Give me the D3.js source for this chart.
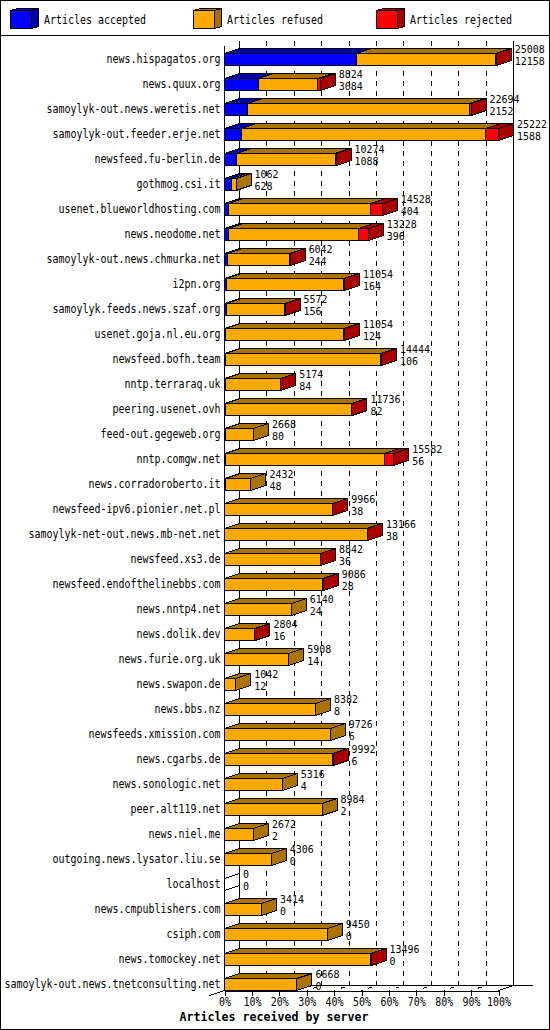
<!DOCTYPE html>
<html>
<head>
<meta charset="utf-8">
<script src="https://cdn.jsdelivr.net/npm/d3@7"></script>
<style>
  html, body { margin: 0; padding: 0; background: #fff; }
  svg { display: block; }
  text { font-family: "DejaVu Sans Mono", monospace; font-size: 11.5px; fill: #000; }
  .value { font-size: 10.3px; }
  .title { font-size: 12.5px; font-weight: bold; }
</style>
</head>
<body>
<svg id="chart" width="550" height="1030"></svg>
<script>
const servers = ["news.hispagatos.org", "news.quux.org", "samoylyk-out.news.weretis.net", "samoylyk-out.feeder.erje.net",
  "newsfeed.fu-berlin.de", "gothmog.csi.it", "usenet.blueworldhosting.com", "news.neodome.net",
  "samoylyk-out.news.chmurka.net", "i2pn.org", "samoylyk.feeds.news.szaf.org", "usenet.goja.nl.eu.org",
  "newsfeed.bofh.team", "nntp.terraraq.uk", "peering.usenet.ovh", "feed-out.gegeweb.org",
  "nntp.comgw.net", "news.corradoroberto.it", "newsfeed-ipv6.pionier.net.pl", "samoylyk-net-out.news.mb-net.net",
  "newsfeed.xs3.de", "newsfeed.endofthelinebbs.com", "news.nntp4.net", "news.dolik.dev",
  "news.furie.org.uk", "news.swapon.de", "news.bbs.nz", "newsfeeds.xmission.com",
  "news.cgarbs.de", "news.sonologic.net", "peer.alt119.net", "news.niel.me",
  "outgoing.news.lysator.liu.se", "localhost", "news.cmpublishers.com", "csiph.com",
  "news.tomockey.net", "samoylyk-out.news.tnetconsulting.net"];
// first number printed next to each bar
const received = [25008, 8824, 22694, 25222, 10274, 1062, 14528, 13228, 6042, 11054, 5572, 11054, 14444, 5174, 11736, 2668,
  15582, 2432, 9966, 13166, 8842, 9086, 6140, 2804, 5908, 1042, 8382, 9726, 9992, 5316, 8984, 2672, 4306, 0, 3414, 9450, 13496, 6668];
// second number printed next to each bar
const accepted = [12158, 3084, 2152, 1588, 1088, 628, 404, 396, 244, 164, 156, 124, 106, 84, 82, 80,
  56, 48, 38, 38, 36, 28, 24, 16, 14, 12, 8, 6, 6, 4, 2, 2, 0, 0, 0, 0, 0, 0];
// not printed, estimated from the width of the red part
const rejected = [60, 270, 100, 1200, 100, 0, 1100, 900, 50, 60, 30, 60, 60, 30, 50, 0,
  850, 0, 40, 40, 30, 30, 0, 20, 0, 0, 0, 0, 30, 0, 0, 0, 0, 0, 0, 0, 40, 0];
const percentTicks = [0, 10, 20, 30, 40, 50, 60, 70, 80, 90, 100];
const legendLabels = ["Articles accepted", "Articles refused", "Articles rejected"];

const colors = ["#0000ff", "#ffaa00", "#ff0000"];
const darkColors = ["#0000aa", "#ab7400", "#aa0000"];

// depth of the 3d effect
const depthX = 15, depthY = 5;
const barHalf = 6;
const floorY = 990.5;
const wallTop = 40.5;

const svg = d3.select("#chart");

let xPct = d3.scaleLinear().domain([0, 100]).range([224.5, 498.5]);
let xVal = d3.scaleLinear().domain([0, d3.max(received)]).range([224.5, 498.5]);
let yRow = d3.scalePoint().domain(servers).range([59, 984]);

function poly(parent, pts, fill) {
  return parent.append("polygon")
    .attr("points", pts.map(p => p.join(",")).join(" "))
    .attr("fill", fill)
    .attr("stroke", "#000")
    .attr("stroke-width", 1)
    .attr("shape-rendering", "crispEdges");
}

function seg(parent, x1, y1, x2, y2, dash) {
  return parent.append("line")
    .attr("x1", x1).attr("y1", y1).attr("x2", x2).attr("y2", y2)
    .attr("stroke", "#000")
    .attr("stroke-dasharray", dash || null)
    .attr("shape-rendering", "crispEdges");
}

// the original uses a narrow bitmap font, so squeeze the glyphs to its cell width
function fitText(sel, cell) {
  sel.attr("textLength", function() { return this.textContent.length * cell; })
     .attr("lengthAdjust", "spacingAndGlyphs");
}

// frame + header line
svg.append("rect").attr("x", 0.5).attr("y", 0.5).attr("width", 549).attr("height", 1029)
  .attr("fill", "#fff").attr("stroke", "#000").attr("shape-rendering", "crispEdges");
seg(svg, 0, 35.5, 550, 35.5);

// legend
const legendX = [10.5, 193.5, 376.5];
legendLabels.forEach((label, i) => {
  let g = svg.append("g");
  let x = legendX[i];
  poly(g, [[x, 10.5], [x + 7, 8.5], [x + 28, 8.5], [x + 21, 10.5]], darkColors[i]);
  poly(g, [[x + 21, 10.5], [x + 28, 8.5], [x + 28, 26.5], [x + 21, 28.5]], darkColors[i]);
  poly(g, [[x, 10.5], [x + 21, 10.5], [x + 21, 28.5], [x, 28.5]], colors[i]);
  g.append("text").attr("x", x + 33.5).attr("y", 20.5).attr("dy", "0.32em").text(label).call(fitText, 6);
});

// back wall, grid
let grid = svg.append("g");
percentTicks.forEach(p => {
  let bx = xPct(p) + depthX;
  let solid = p === 0 || p === 100;
  seg(grid, bx, wallTop, bx, floorY - depthY, solid ? null : "5,5");
  seg(grid, xPct(p), floorY, bx, floorY - depthY, solid ? null : "1,6,4,10");
});
seg(grid, xPct(0), wallTop + depthY, xPct(0), floorY);
seg(grid, xPct(0) + depthX, floorY - depthY, xPct(100) + depthX + 19, floorY - depthY);
seg(grid, xPct(0) - depthX, floorY + depthY, xPct(0), floorY);

// percent axis on the front of the floor
let axis = svg.append("g")
  .attr("transform", `translate(0, ${floorY})`)
  .call(d3.axisBottom(xPct).tickValues(percentTicks).tickSize(5).tickSizeOuter(0).tickPadding(2)
    .tickFormat(d => d + "%"));
axis.selectAll("path, line").attr("stroke", "#000").attr("shape-rendering", "crispEdges");
axis.attr("font-family", null).attr("font-size", null);
axis.selectAll("text").call(fitText, 6);

// bars
let bars = svg.append("g");
servers.forEach((name, i) => {
  let cy = yRow(name);
  let top = cy - barHalf + 0.5, bottom = cy + barHalf + 0.5;
  let refused = received[i] - accepted[i] - rejected[i];
  let parts = [accepted[i], refused, rejected[i]];
  let g = bars.append("g");

  let start = 0;
  let lastColor = -1;
  parts.forEach((v, k) => {
    if (v <= 0) return;
    let x1 = xVal(start), x2 = xVal(start + v);
    poly(g, [[x1, top], [x1 + depthX, top - depthY], [x2 + depthX, top - depthY], [x2, top]], darkColors[k]);
    poly(g, [[x1, top], [x2, top], [x2, bottom], [x1, bottom]], colors[k]);
    start += v;
    lastColor = k;
  });
  let xe = xVal(received[i]);
  poly(g, [[xe, top], [xe + depthX, top - depthY], [xe + depthX, bottom - depthY], [xe, bottom]],
    lastColor < 0 ? "none" : darkColors[lastColor]);

  g.append("text").attr("x", 220.5).attr("y", cy + 0.5).attr("dy", "0.32em").attr("text-anchor", "end").text(name).call(fitText, 6);
  g.append("text").attr("class", "value").attr("x", xe + 18.5).attr("y", cy - 9).attr("dy", "0.32em").text(received[i]).call(fitText, 6);
  g.append("text").attr("class", "value").attr("x", xe + 18.5).attr("y", cy + 3).attr("dy", "0.32em").text(accepted[i]).call(fitText, 6);
});

svg.append("text").attr("class", "title")
  .attr("x", 274).attr("y", 1017).attr("dy", "0.32em").attr("text-anchor", "middle")
  .text("Articles received by server").call(fitText, 7);
</script>
</body>
</html>
